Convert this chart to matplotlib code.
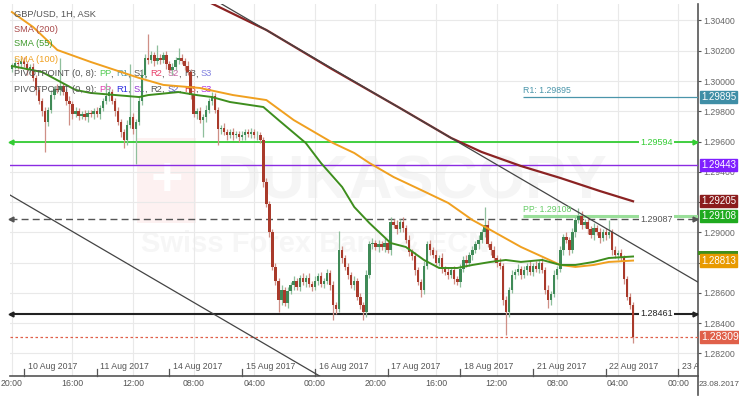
import numpy as np
import matplotlib
matplotlib.use("Agg")
import matplotlib.pyplot as plt
import matplotlib.transforms as mtransforms
from matplotlib.patches import Rectangle

plt.rcParams['font.family'] = ['Liberation Sans', 'DejaVu Sans']

# ---- data (hourly candles, hour index counted from 10 Aug 00:00, weekend removed) ----
start_hour = -4          # first candle = 9 Aug 20:00
first_open = 1.3008
closes = [
    1.3010, 1.3012, 1.3011, 1.3013, 1.3011, 1.3007, 1.3009, 1.3002, 1.2994, 1.2987,
    1.2980, 1.2973, 1.2981, 1.2991, 1.2995, 1.2994, 1.2997, 1.2993, 1.2987, 1.2985,
    1.2978, 1.2980, 1.2977, 1.2978, 1.2976, 1.2979, 1.2978, 1.2980, 1.2978, 1.2982,
    1.2987, 1.2990, 1.2993, 1.2987, 1.2980, 1.2973, 1.2966, 1.2961, 1.2971, 1.2976,
    1.2968, 1.2973, 1.2987, 1.3004, 1.3015, 1.3014, 1.3017, 1.3013, 1.3015, 1.3014,
    1.3017, 1.3011, 1.3007, 1.3009, 1.3014, 1.3015, 1.3013, 1.3010, 1.3006, 1.2991,
    1.2978, 1.2980, 1.2974, 1.2976, 1.2981, 1.2987, 1.2990, 1.2981, 1.2968, 1.2969,
    1.2966, 1.2964, 1.2966, 1.2964, 1.2965, 1.2963, 1.2964, 1.2966, 1.2965, 1.2966,
    1.2964, 1.2964, 1.2961, 1.2933, 1.2919, 1.2900, 1.2877, 1.2868, 1.2855, 1.2862,
    1.2853, 1.2861, 1.2865, 1.2868, 1.2864, 1.2870, 1.2867, 1.2870, 1.2866, 1.2864,
    1.2868, 1.2871, 1.2866, 1.2868, 1.2873, 1.2865, 1.2852, 1.2849, 1.2888, 1.2883,
    1.2877, 1.2872, 1.2865, 1.2868, 1.2857, 1.2852, 1.2847, 1.2872, 1.2892, 1.2893,
    1.2890, 1.2892, 1.2890, 1.2893, 1.2888, 1.2907, 1.2905, 1.2902, 1.2907, 1.2903,
    1.2895, 1.2887, 1.2884, 1.2875, 1.2867, 1.2862, 1.2878, 1.2892, 1.2888, 1.2885,
    1.2880, 1.2883, 1.2876, 1.2874, 1.2872, 1.2875, 1.2869, 1.2867, 1.2876, 1.2882,
    1.2880, 1.2885, 1.2888, 1.2892, 1.2895, 1.2900, 1.2905, 1.2892, 1.2888, 1.2883,
    1.2880, 1.2878, 1.2855, 1.2847, 1.2862, 1.2872, 1.2874, 1.2876, 1.2872, 1.2875,
    1.2878, 1.2874, 1.2878, 1.2876, 1.2880, 1.2875, 1.2862, 1.2855, 1.2859, 1.2872,
    1.2876, 1.2888, 1.2897, 1.2895, 1.2888, 1.2900, 1.2908, 1.2911, 1.2905, 1.2907,
    1.2902, 1.2898, 1.2903, 1.2900, 1.2896, 1.2900, 1.2898, 1.2900, 1.2888, 1.2885,
    1.2886, 1.2883, 1.2869, 1.2857, 1.2852, 1.28309]
# wick lengths in pips above / below the body
wick_up = [
    2, 3, 2, 2, 3, 2, 2, 3, 2, 2, 2, 3, 2, 3, 2, 3, 18, 2, 2, 3,
    2, 3, 2, 2, 3, 2, 2, 2, 3, 2, 2, 9, 3, 2, 2, 3, 2, 2, 3, 35,
    3, 2, 3, 4, 3, 16, 3, 2, 9, 3, 2, 3, 2, 3, 2, 7, 3, 2, 3, 2,
    3, 2, 3, 2, 3, 2, 3, 2, 2, 2, 3, 2, 2, 3, 2, 2, 3, 2, 2, 3,
    2, 3, 2, 2, 3, 2, 2, 3, 2, 3, 2, 3, 2, 3, 2, 2, 3, 2, 3, 2,
    3, 2, 3, 2, 3, 2, 3, 2, 13, 3, 2, 3, 2, 3, 2, 3, 2, 3, 2, 3,
    2, 3, 2, 3, 2, 3, 2, 3, 2, 3, 2, 3, 2, 3, 2, 2, 3, 2, 3, 2,
    3, 2, 3, 2, 3, 2, 3, 2, 3, 2, 3, 2, 3, 2, 3, 2, 12, 3, 2, 3,
    2, 3, 2, 3, 2, 3, 2, 3, 2, 3, 2, 3, 2, 3, 2, 3, 2, 3, 2, 3,
    2, 3, 2, 3, 2, 3, 2, 5, 3, 2, 3, 2, 3, 2, 3, 2, 3, 8, 2, 3,
    2, 3, 2, 2, 3, 2]
wick_dn = [
    2, 2, 3, 2, 2, 3, 2, 2, 3, 2, 3, 20, 3, 2, 3, 2, 3, 2, 3, 14,
    3, 2, 3, 2, 2, 3, 2, 3, 2, 3, 2, 2, 3, 2, 3, 2, 3, 5, 3, 2,
    3, 23, 2, 3, 2, 3, 2, 3, 2, 3, 2, 3, 2, 3, 2, 3, 2, 3, 2, 3,
    2, 3, 2, 11, 3, 2, 3, 2, 10, 3, 2, 3, 2, 3, 2, 3, 2, 3, 2, 3,
    2, 3, 2, 3, 2, 3, 2, 3, 8, 3, 2, 3, 2, 3, 2, 3, 2, 3, 2, 3,
    2, 3, 2, 3, 2, 3, 10, 3, 2, 3, 2, 3, 2, 3, 2, 3, 5, 3, 2, 3,
    2, 3, 2, 3, 2, 3, 2, 3, 2, 3, 2, 3, 2, 3, 2, 5, 3, 2, 3, 2,
    3, 2, 3, 2, 3, 2, 3, 2, 3, 2, 3, 2, 3, 2, 3, 2, 3, 2, 3, 2,
    3, 2, 3, 15, 3, 2, 3, 2, 3, 2, 3, 2, 3, 2, 3, 2, 3, 5, 3, 2,
    3, 2, 3, 2, 3, 2, 3, 2, 3, 2, 3, 2, 3, 2, 3, 2, 3, 2, 3, 2,
    3, 2, 3, 2, 3, 4]

# moving averages (hour index, price)
sma100_h = [-4, 3, 11, 22, 38, 46, 58, 69, 80, 89, 102, 109, 114, 122, 131, 140,
            148, 154, 164, 172, 177, 182, 188, 193, 201]
sma100_p = [1.30456, 1.30357, 1.30205, 1.30126, 1.30020, 1.29974, 1.29954, 1.29907,
            1.29874, 1.29742, 1.29590, 1.29524, 1.29458, 1.29365, 1.29280, 1.29194,
            1.29081, 1.29015, 1.28903, 1.28830, 1.28784, 1.28771, 1.28784, 1.28804,
            1.28813]
sma55_h = [-4, 6, 17, 22, 38, 41, 51, 57, 62, 68, 79, 84, 93, 98, 105, 109, 114, 121,
           126, 132, 137, 143, 148, 154, 159, 164, 171, 177, 182, 188, 193, 201]
sma55_p = [1.30099, 1.30059, 1.29941, 1.29921, 1.29894, 1.29907, 1.29927, 1.29907,
           1.29894, 1.29861, 1.29828, 1.29742, 1.29590, 1.29458, 1.29299, 1.29167,
           1.29061, 1.28929, 1.28903, 1.28817, 1.28764, 1.28764, 1.28784, 1.28804,
           1.28817, 1.28804, 1.28817, 1.28784, 1.28784, 1.28804, 1.28830, 1.28840]
sma200_h = [61, 80, 101, 124, 141, 151, 164, 177, 190, 201]
sma200_p = [1.30522, 1.30337, 1.30086, 1.29822, 1.29623, 1.29531, 1.29438, 1.29359,
            1.29273, 1.29205]

# trend lines (hour index, price)
trend_hi_h = [63, 222.4]
trend_hi_p = [1.30535, 1.28671]
trend_lo_h = [-4.6, 104.3]
trend_lo_p = [1.29246, 1.27971]

# horizontal levels
lvl_green = 1.29594
lvl_purple = 1.29443
lvl_dash = 1.29087
lvl_black = 1.28461
last_price = 1.28309
sma200_last = 1.29205
sma100_last = 1.28813
r1_price, r1_start = 1.29895, 164.7
pp_price, pp_start = 1.29108, 164.7

price_ticks = [1.282, 1.284, 1.286, 1.288, 1.290, 1.292, 1.294, 1.296, 1.298,
               1.300, 1.302, 1.304]
hidden_ticks = [1.288, 1.292]    # covered by the price boxes
time_ticks = [-4, 16, 36, 56, 76, 96, 116, 136, 156, 176, 196, 216]
time_labels = ['20:00', '16:00', '12:00', '08:00', '04:00', '00:00',
               '20:00', '16:00', '12:00', '08:00', '04:00', '00:00']
day_starts = [0, 24, 48, 72, 96, 120, 144, 168, 192, 216]
day_labels = ['10 Aug 2017', '11 Aug 2017', '14 Aug 2017', '15 Aug 2017', '16 Aug 2017',
              '17 Aug 2017', '18 Aug 2017', '21 Aug 2017', '22 Aug 2017', '23 Aug 2017']

W, H = 739, 397
fig = plt.figure(figsize=(W / 100, H / 100), dpi=100)
ax = fig.add_axes([10 / W, 21 / H, 688 / W, 372 / H])
ax.set_xlim(-4.62, 222.44)
ax.set_ylim(1.28050, 1.30509)

dx = mtransforms.blended_transform_factory(ax.transData, ax.transAxes)
ay = mtransforms.blended_transform_factory(ax.transAxes, ax.transData)

# grid / axes
ax.set_yticks(price_ticks)
ax.set_xticks(time_ticks)
ax.set_xticklabels(time_labels)
ax.yaxis.tick_right()
ax.set_yticklabels(['' if p in hidden_ticks else '%.5f' % p for p in price_ticks])
ax.tick_params(axis='y', length=2, pad=2, labelsize=6.3, labelcolor='#666666', color='#555555')
ax.tick_params(axis='x', length=0, pad=2.5, labelsize=6.3, labelcolor='#555555')
ax.grid(True, color='#e9e9e9', lw=0.8, zorder=0)
ax.set_axisbelow(True)
for s in ['top', 'left']:
    ax.spines[s].set_visible(False)
ax.spines['right'].set_color('#555555')
ax.spines['bottom'].set_color('#555555')
ax.spines['right'].set_linewidth(1.2)
ax.spines['bottom'].set_linewidth(1.2)
ax.plot([1, 1], [0, -0.05], transform=ax.transAxes, color='#555555', lw=1.2, clip_on=False)

# watermark
ax.add_patch(Rectangle((0.185, 0.41), 0.085, 0.23, transform=ax.transAxes,
                       fc='#fdf1f1', ec='none', zorder=0.5))
ax.text(0.2275, 0.525, '+', transform=ax.transAxes, fontsize=40, color='white',
        ha='center', va='center', fontweight='bold', zorder=0.6)
ax.text(0.585, 0.52, 'DUKASCOPY', transform=ax.transAxes, fontsize=44, color='#f5f5f5',
        ha='center', va='center', fontweight='bold', zorder=0.5)
ax.text(0.19, 0.355, 'Swiss Forex Bank & ECN', transform=ax.transAxes, fontsize=21,
        color='#f6f6f6', ha='left', va='center', fontweight='bold', zorder=0.5)

# candles
c = np.array(closes)
o = np.r_[first_open, c[:-1]]
xs = np.arange(len(c)) + start_hour
hi = np.maximum(o, c) + np.array(wick_up) * 1e-4
lo = np.minimum(o, c) - np.array(wick_dn) * 1e-4
bull = c >= o
body_col = np.where(bull, '#3f8a57', '#a93a2b')
wick_col = np.where(bull, '#8fbf9c', '#cf8f86')
ax.vlines(xs, lo, hi, colors=wick_col, lw=0.9, zorder=4)
ax.bar(xs, np.maximum(np.abs(c - o), 0.00005), bottom=np.minimum(o, c), width=0.8,
       color=body_col, lw=0, zorder=5)

# moving averages
ax.plot(sma200_h, sma200_p, color='#8b2323', lw=1.6, zorder=6)
ax.plot(sma100_h, sma100_p, color='#f0a020', lw=1.4, zorder=6)
ax.plot(sma55_h, sma55_p, color='#3e8e1e', lw=1.4, zorder=6)

# trend lines
ax.plot(trend_hi_h, trend_hi_p, color='#444444', lw=0.9, zorder=6)
ax.plot(trend_lo_h, trend_lo_p, color='#444444', lw=0.9, zorder=6)

# horizontal levels
x_lab = 208.8
x_arr = 221.6
ax.axhline(lvl_green, color='#33cc33', lw=1.3, zorder=3)
ax.axhline(lvl_purple, color='#8a2be2', lw=1.0, zorder=3)
ax.axhline(lvl_dash, color='#555555', lw=1.0, ls=(0, (5, 3)), zorder=3)
ax.axhline(lvl_black, color='#222222', lw=1.5, zorder=3)
ax.axhline(last_price, color='#e0604a', lw=0.9, ls=(0, (2, 2)), zorder=3)
for p, col in [(lvl_green, '#33cc33'), (lvl_dash, '#555555'), (lvl_black, '#222222')]:
    ax.text(x_lab, p, '%.5f' % p, color=col, fontsize=6.5, ha='center', va='center',
            bbox=dict(boxstyle='square,pad=0.15', fc='white', ec='none'), zorder=7)
    ax.plot([x_arr], [p], marker='>', ms=3.5, color=col, zorder=7, clip_on=False)
    ax.plot([-4.3], [p], marker='<', ms=3.5, color=col, zorder=7, clip_on=False)

ax.hlines(r1_price, r1_start, 222.44, color='#4a95aa', lw=0.9, zorder=3)
ax.text(r1_start, r1_price + 0.00012, 'R1: %.5f' % r1_price, color='#4a95aa', fontsize=6.3,
        ha='left', va='bottom', zorder=7)
ax.hlines(pp_price, pp_start, 222.44, color='#9adf9a', lw=2.2, zorder=3)
ax.text(pp_start, pp_price + 0.00012, 'PP: %.5f' % pp_price, color='#66cc66', fontsize=6.3,
        ha='left', va='bottom', zorder=7)

# price boxes on the right axis (SMA 55 box sits behind the SMA 100 one)
ax.add_patch(Rectangle((1.0, sma100_last + 0.0004), 40 / 688, 0.00025, transform=ay,
                       fc='#3e8e1e', ec='none', clip_on=False, zorder=7.5))
boxes = [(r1_price, '#3f8ea6', 7), (lvl_purple, '#7f1fff', 7), (sma200_last, '#8b1c1c', 7),
         (pp_price, '#1faa1f', 7), (sma100_last, '#e89a00', 7), (last_price, '#e0604a', 7.5)]
for p, col, fs in boxes:
    ax.text(1.0 + 3 / 688, p, '%.5f' % p, transform=ay, color='white', fontsize=fs,
            ha='left', va='center', clip_on=False, zorder=8,
            bbox=dict(boxstyle='square,pad=0.12', fc=col, ec=col))

# date labels above the axis
for d, lab in zip(day_starts, day_labels):
    ax.plot([d, d], [0, 0.018], transform=dx, color='#555555', lw=0.9, clip_on=False)
    ax.text(d + 1.2, 0.026, lab, transform=dx, fontsize=6.3, color='#555555',
            ha='left', va='center', clip_on=True)
fig.text(699 / W, 1 - 385 / H, '23.08.2017', fontsize=5.9, color='#555555',
         ha='left', va='center')

# legend texts
def colored(y, parts):
    t = fig.text(14 / W, 1 - y / H, parts[0][0], color=parts[0][1], fontsize=6.7,
                 ha='left', va='center')
    for s, col in parts[1:]:
        t = ax.annotate(s, xy=(1, 0), xycoords=t, color=col, fontsize=6.7,
                        ha='left', va='bottom')

g = '#555555'
colored(14, [('GBP/USD, 1H, ASK', g)])
colored(29, [('SMA (200)', '#a94848')])
colored(44, [('SMA (55)', '#3f9a2c')])
colored(59, [('SMA (100)', '#f0a020')])
colored(74, [('PIVOTPOINT (0, 8): ', g), ('PP', '#55cc55'), (', ', g), ('R1', '#5a9aaa'),
             (', ', g), ('S1', g), (', ', g), ('R2', '#e8406a'), (', ', g), ('S2', '#c060a0'),
             (', ', g), ('R3', g), (', ', g), ('S3', '#8080e0')])
colored(89, [('PIVOTPOINT (0, 9): ', g), ('PP', '#e040b0'), (', ', g), ('R1', '#3030e0'),
             (', ', g), ('S1', '#9030d0'), (', ', g), ('R2', g), (', ', g), ('S2', '#5050c0'),
             (', ', g), ('R3', '#e03030'), (', ', g), ('S3', '#b030e0')])

fig.savefig('out.png', dpi=100)
